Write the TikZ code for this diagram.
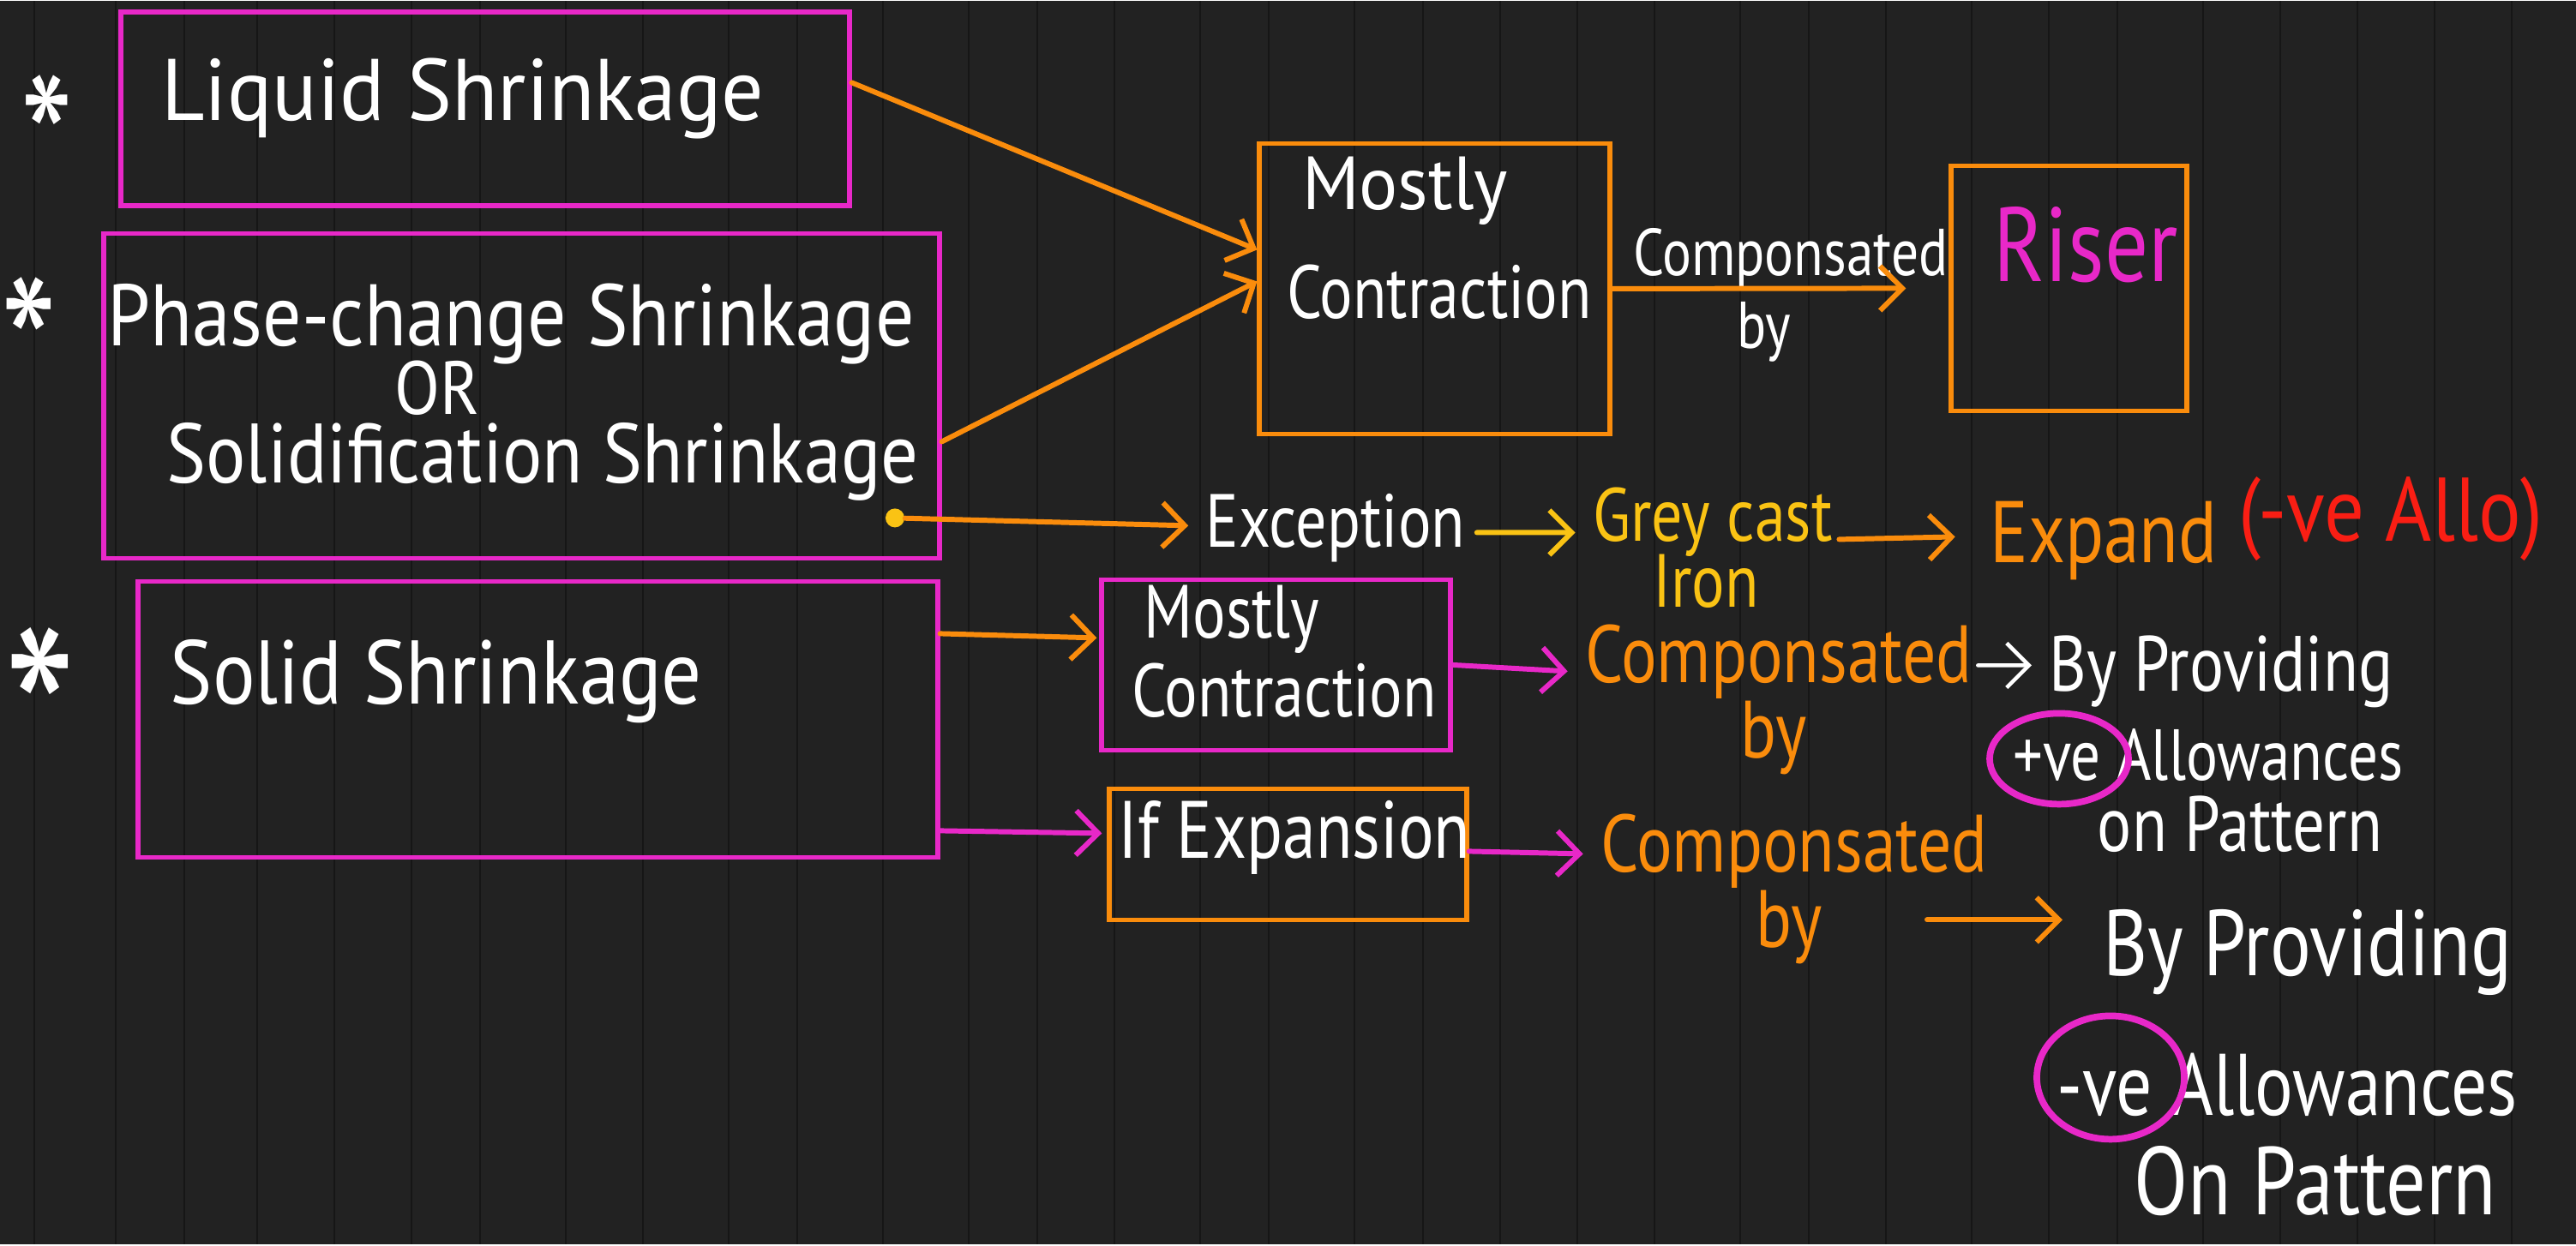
\documentclass[tikz,border=0pt]{standalone}
\usepackage{fontspec}
\setmainfont{PT Sans}
\newfontfamily\hand[FakeStretch=0.82]{PT Sans}
\newfontfamily\handm[FakeStretch=0.88]{PT Sans}
\newfontfamily\handw[FakeStretch=0.96]{PT Sans}
\usetikzlibrary{arrows.meta,calc,shapes.geometric}
\definecolor{bg}{RGB}{34,34,34}
\definecolor{plank}{RGB}{22,22,22}
\definecolor{pk}{RGB}{232,40,200}
\definecolor{og}{RGB}{250,140,12}
\definecolor{yl}{RGB}{250,195,20}
\definecolor{rd}{RGB}{250,30,20}
\newcommand\fz[1]{\fontsize{#1}{#1}\selectfont}
\begin{document}
\begin{tikzpicture}[x=0.1mm,y=-0.1mm,
  tw/.style={font=\hand, text=white, inner sep=0pt, anchor=base},
  to/.style={tw, text=og},
  pbox/.style={draw=pk, line width=1.5pt, inner sep=0pt},
  obox/.style={draw=og, line width=1.5pt, inner sep=0pt},
  arr/.style={line width=1.7pt, line cap=round, line join=round,
    -{Straight Barb[length=2.6mm,width=5.2mm]}},
  ring/.style={ellipse, draw=pk, line width=2.2pt, inner sep=0pt}]
% background
\fill[bg] (0,0) rectangle (3005,1451);
\foreach \x in {40,135,215,300,390,480,560,660,750,850,930,1030,1130,1210,1300,1400,1480,1580,1660,1750,1840,1930,2030,2110,2200,2300,2390,2470,2570,2660,2750,2840,2930}
  \draw[plank, line width=0.8pt] (\x,0) -- (\x,1451);
\useasboundingbox (0,0) rectangle (3005,1451);

% left boxes
\node[pbox, minimum width=85.0mm, minimum height=22.6mm] (b1) at (566,125.5) {};
\node[pbox, minimum width=97.5mm, minimum height=37.9mm] (b2) at (608.5,460.5) {};
\node[pbox, minimum width=93.3mm, minimum height=32.2mm] (b3) at (627.5,838) {};

\node[tw, anchor=center, font=\hand\fz{62}] (s1) at (55,164) {*};
\node[tw, anchor=center, font=\hand\fz{66}] (s2) at (34,405) {*};
\node[tw, anchor=center, font=\hand\fz{84}] (s3) at (47,837) {*};

\node[tw, font=\handw\fz{29}] (t1) at (540,139) {Liquid Shrinkage};
\node[tw, font=\handm\fz{29}] (t2a) at (596,402) {Phase-change Shrinkage};
\node[tw, font=\handm\fz{25}] (t2b) at (510,482) {OR};
\node[tw, font=\handm\fz{28}] (t2c) at (633,562) {Solidification Shrinkage};
\node[tw, font=\handm\fz{30}] (t3) at (509,820) {Solid Shrinkage};

% upper right
\node[obox, minimum width=40.9mm, minimum height=33.9mm] (mc1) at (1673.5,335.5) {};
\node[tw, font=\handw\fz{25}] (mc1a) at (1639,243) {Mostly};
\node[tw, font=\hand\fz{25}] (mc1b) at (1679,370) {Contraction};
\node[obox, minimum width=27.5mm, minimum height=28.6mm] (rb) at (2413.5,335) {};
\node[tw, text=pk, font=\hand\fz{35}] (riser) at (2433,327) {Riser};
\node[tw, font=\hand\fz{22}] (cb1a) at (2089,320) {Componsated};
\node[tw, font=\hand\fz{22}] (cb1b) at (2058,405) {by};

% exception row
\node[circle, fill=yl, inner sep=0pt, minimum size=2.2mm] (dot) at (1044,603) {};
\node[tw, font=\hand\fz{25}] (exc) at (1558,637) {Exception};
\node[tw, text=yl, font=\hand\fz{25}] (grey) at (1998,630) {Grey cast};
\node[tw, text=yl, font=\hand\fz{25}] (iron) at (1990,707) {Iron};
\node[to, font=\hand\fz{29}] (expand) at (2454,655) {Expand};
\node[tw, text=rd, font=\handm\fz{30}] (allo) at (2789,630) {(-ve Allo)};

% middle row
\node[pbox, minimum width=40.7mm, minimum height=19.9mm] (mc2) at (1488.5,774.5) {};
\node[tw, font=\hand\fz{25}] (mc2a) at (1437,743) {Mostly};
\node[tw, font=\hand\fz{25}] (mc2b) at (1498,835) {Contraction};
\node[to, font=\hand\fz{27}] (oc1a) at (2075,795) {Componsated};
\node[to, font=\hand\fz{27}] (oc1b) at (2069,883) {by};
\node[tw, font=\hand\fz{26}] (bp1a) at (2591,805) {By Providing};
\node[tw, font=\hand\fz{24}] (bp1b) at (2576,909) {+ve Allowances};
\node[tw, font=\hand\fz{26}] (bp1c) at (2613,992) {on Pattern};
\node[ring, minimum width=16.2mm, minimum height=10.6mm] (c1) at (2402,884) {};

% lower row
\node[obox, minimum width=41.7mm, minimum height=15.3mm] (ie) at (1502.5,995.5) {};
\node[tw, font=\hand\fz{27}] (iet) at (1510,1000) {If Expansion};
\node[to, font=\hand\fz{27}] (oc2a) at (2093,1016) {Componsated};
\node[to, font=\hand\fz{27}] (oc2b) at (2087,1104) {by};
\node[tw, font=\hand\fz{31}] (bp2a) at (2692,1137) {By Providing};
\node[tw, font=\hand\fz{29}] (bp2b) at (2668,1300) {-ve Allowances};
\node[tw, font=\hand\fz{32}] (bp2c) at (2701,1416) {On Pattern};
\node[ring, minimum width=17.2mm, minimum height=14.4mm] (c2) at (2462,1256) {};
\coordinate (a10s) at (2248,1072);
\coordinate (a10e) at (2406,1072);

% connectors
\draw[arr, og] ([yshift=3.05mm]b1.east) -- ([yshift=4.55mm]mc1.west);
\draw[arr, og] ([yshift=-5.35mm]b2.east) -- ([yshift=0.85mm]mc1.west);
\draw[arr, og] (dot) -- ([xshift=-2mm,yshift=2.5mm]exc.base west);
\draw[arr, og] (mc1.east) -- ([xshift=-5mm]rb.west);
\draw[arr, yl] ([xshift=1.3mm,yshift=1.7mm]exc.base east) -- ([xshift=-2mm,yshift=1mm]grey.base west);
\draw[arr, og] ([xshift=0.7mm,yshift=0.2mm]grey.base east) -- ([xshift=-4mm,yshift=3mm]expand.base west);
\draw[arr, og] ([yshift=10mm]b3.east) -- ([xshift=-0.3mm,yshift=3.15mm]mc2.west);
\draw[arr, pk] (mc2.east) -- ([xshift=-2mm,yshift=1.3mm]oc1a.base west);
\draw[arr, white, line width=1.3pt] ([xshift=0.6mm,yshift=2mm]oc1a.base east) -- ([xshift=-2mm,yshift=3mm]bp1a.base west);
\draw[arr, pk] ([yshift=-13mm]b3.east) -- ([xshift=-0.6mm,yshift=2.45mm]ie.west);
\draw[arr, pk] ([yshift=0.35mm]ie.east) -- ([xshift=-2mm,yshift=2.1mm]oc2a.base west);
\draw[arr, og] (a10s) -- (a10e);
\end{tikzpicture}
\end{document}
